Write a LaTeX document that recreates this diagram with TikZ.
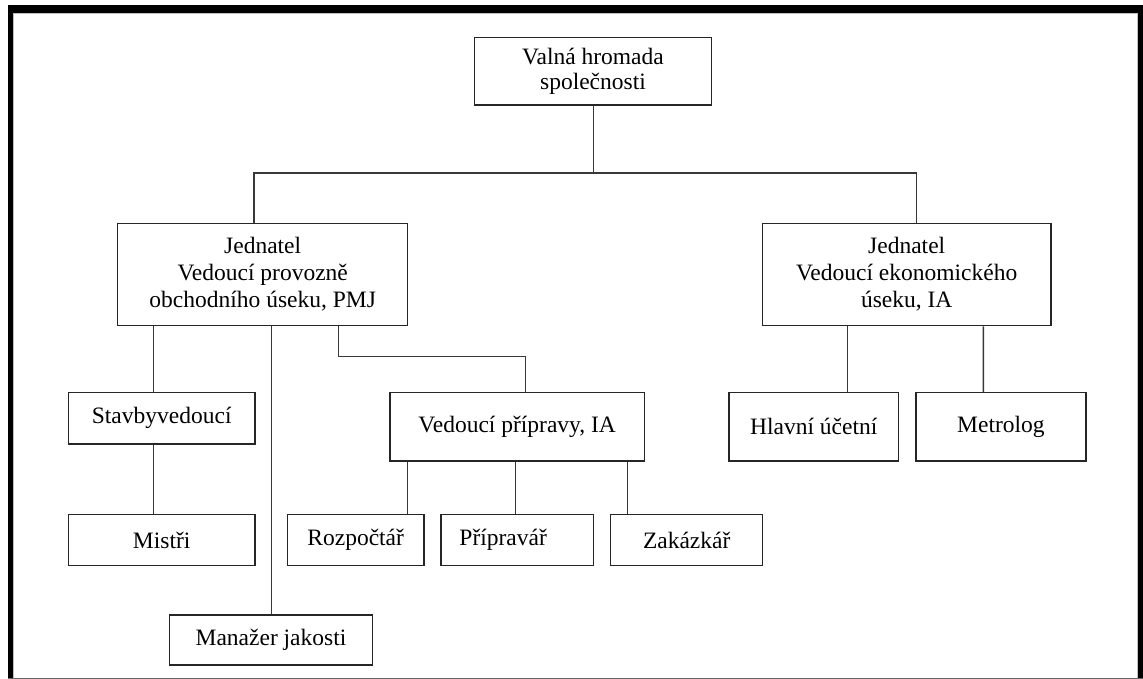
\documentclass[tikz,border=0pt]{standalone}
\usepackage{fontspec}
\setmainfont{Liberation Serif}
\begin{document}
\begin{tikzpicture}[x=1pt,y=-1pt,
  box/.style={draw=black!85,line width=1.5pt,inner sep=0pt,align=center,
    font=\fontsize{23.5}{27}\selectfont},
  conn/.style={draw=black!78,line width=1.5pt}]
\useasboundingbox (0,0) rectangle (1143,679);
% frame
\fill[black] (8,5) rectangle (1143,13);
\fill[black] (8,5) rectangle (13,678);
\fill[black] (1138,5) rectangle (1143,679);
\draw[black!60,line width=1pt] (8,678) -- (1143,678);
\draw[black!25,line width=0.8pt] (13.5,678) |- (1137.5,13.5) -- (1137.5,678);
% boxes
\node[box,minimum width=237.4pt,minimum height=67.7pt,font=\fontsize{23.5}{25}\selectfont] (top) at (593,71.2) {Valná hromada\\společnosti};
\node[box,minimum width=290pt,minimum height=102.4pt] (jl) at (262.7,274.5) {Jednatel\\Vedoucí provozně\\obchodního úseku, PMJ};
\node[box,minimum width=288.7pt,minimum height=102.4pt] (jr) at (906.7,274.5) {Jednatel\\Vedoucí ekonomického\\úseku, IA};
\node[box,minimum width=186.7pt,minimum height=51.7pt] (stav) at (161.7,418.2) {Stavbyvedoucí};
\node[box,minimum width=186.7pt,minimum height=51.4pt] (mistri) at (161.7,540) {Mistři};
\node[box,minimum width=203.4pt,minimum height=50pt] (manazer) at (271,640) {Manažer jakosti};
\node[box,minimum width=254.3pt,minimum height=68.5pt] (vp) at (517.2,426.8) {Vedoucí přípravy, IA};
\node[box,minimum width=136.7pt,minimum height=51.4pt] (rozp) at (355.7,540) {Rozpočtář};
\node[box,minimum width=152.3pt,minimum height=51.4pt] (prip) at (517.2,540) {Přípravář\hspace*{28pt}};
\node[box,minimum width=152pt,minimum height=51.4pt] (zak) at (686.7,540) {Zakázkář};
\node[box,minimum width=169.3pt,minimum height=68.5pt] (hlavni) at (813.7,426.8) {Hlavní účetní};
\node[box,minimum width=169.7pt,minimum height=68.5pt] (metrolog) at (1000.9,426.8) {Metrolog};
% connectors
\coordinate (bus) at (593.7,173);
\draw[conn] ([xshift=0.7pt]top.south) -- (bus);
\draw[conn] ([xshift=-8.7pt]jl.north) |- (bus) -| ([xshift=10pt]jr.north);
\draw[conn] ([xshift=-109.4pt]jl.south) -- ([xshift=-8.4pt]stav.north);
\draw[conn] ([xshift=-8pt]stav.south) -- ([xshift=-8pt]mistri.north);
\draw[conn] ([xshift=9pt]jl.south) -- ([xshift=0.7pt]manazer.north);
\draw[conn] ([xshift=76pt]jl.south) -- ++(0,30) -| ([xshift=8.1pt]vp.north);
\draw[conn] ([xshift=-59.4pt]jr.south) -- ([xshift=33.6pt]hlavni.north);
\draw[conn] ([xshift=76.6pt]jr.south) -- ([xshift=-17.6pt]metrolog.north);
\draw[conn] ([xshift=-109.9pt]vp.south) -- ([xshift=51.6pt]rozp.north);
\draw[conn] ([xshift=-1.5pt]vp.south) -- ([xshift=-1.5pt]prip.north);
\draw[conn] ([xshift=110.5pt]vp.south) -- ([xshift=-59pt]zak.north);
\end{tikzpicture}
\end{document}
